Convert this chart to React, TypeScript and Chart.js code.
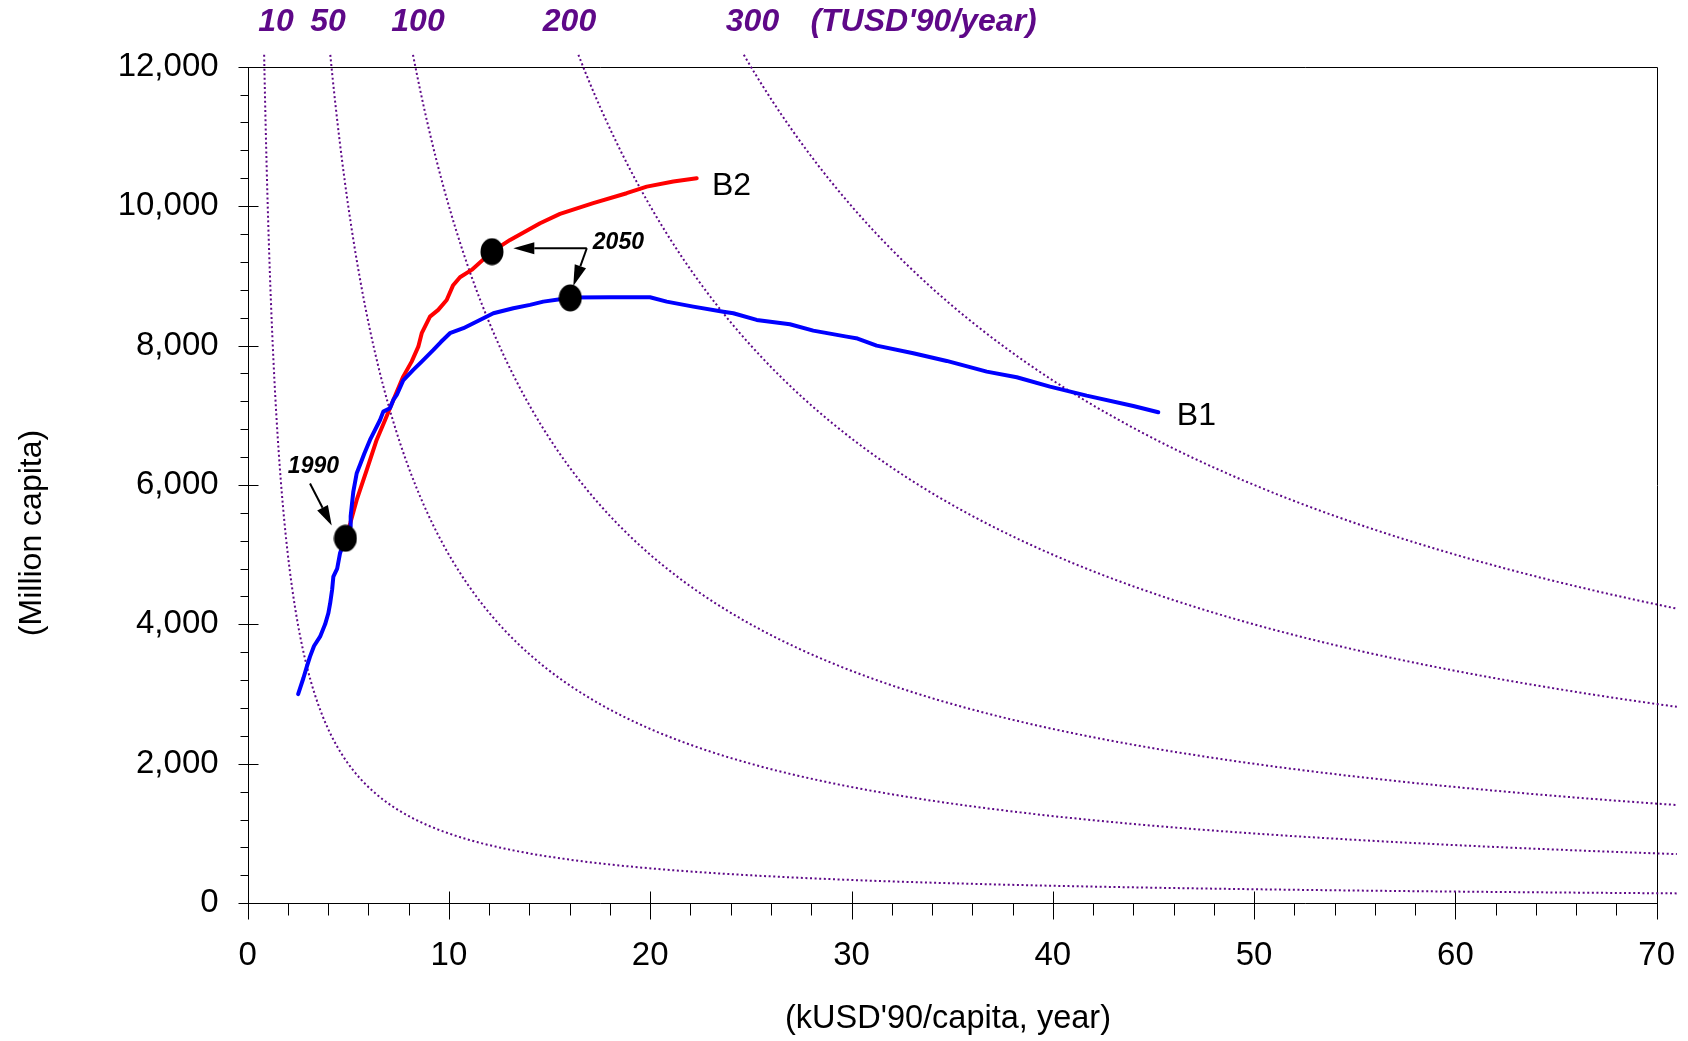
import React, { useEffect, useRef } from 'react';
import { Chart, registerables } from 'chart.js';

Chart.register(...registerables);

const W = 1688;
const H = 1041;

// Iso-GDP contours, total output in TUSD'90/year (population x income)
const gdpLevels = [10, 50, 100, 200, 300];
const gdpLabels = ['10', '50', '100', '200', '300', "(TUSD'90/year)"];

// B1 scenario: income (kUSD'90/capita) and population (million)
const b1Income = [
  2.51, 2.77, 2.95, 3.1, 3.3, 3.6, 3.85, 4.01, 4.1, 4.2, 4.26, 4.45, 4.59, 4.86,
  5.09, 5.12, 5.17, 5.25, 5.42, 5.6, 5.8, 6.08, 6.35, 6.58, 6.74, 7.07, 7.24, 7.41,
  7.73, 8.23, 8.65, 9.23, 9.6, 10.05, 10.72, 11.54, 12.21, 13.2, 14.03, 14.69,
  15.52, 16.03, 18.0, 19.99, 20.82, 22.14, 23.63, 24.13, 25.29, 26.94, 28.1,
  29.76, 30.3, 31.25, 33.07, 34.73, 36.72, 38.21, 39.86, 41.68, 44.0, 45.24,
];
const b1Population = [
  3000, 3227, 3400, 3537, 3690, 3823, 4000, 4159, 4300, 4500, 4684, 4800, 5020, 5235,
  5402, 5550, 5689, 5900, 6168, 6300, 6450, 6646, 6800, 6932, 7052, 7100, 7219, 7291,
  7500, 7650, 7769, 7937, 8050, 8177, 8248, 8367, 8463, 8535, 8583, 8630,
  8664, 8690, 8693, 8693, 8630, 8558, 8486, 8463, 8367, 8306, 8214,
  8128, 8100, 7999, 7890, 7779, 7626, 7545, 7410, 7281, 7133, 7043,
];

// B2 scenario
const b2Income = [
  4.86, 5.1, 5.42, 5.92, 6.41, 6.83, 7.24, 7.73, 8.15, 8.48, 8.65, 9.06, 9.47,
  9.89, 10.2, 10.55, 11.13, 12.14, 13.04, 14.53, 15.52, 17.17, 18.83, 19.83,
  21.15, 22.31,
];
const b2Population = [
  5235, 5450, 5785, 6215, 6646, 6932, 7219, 7554, 7769, 7984, 8177, 8415, 8511,
  8654, 8860, 8980, 9085, 9347, 9515, 9755, 9888, 10042, 10185, 10280,
  10352, 10400,
];

// Milestones: 1990 (shared), 2050 B2, 2050 B1
const milestoneIncome = [4.86, 12.14, 16.03];
const milestonePopulation = [5235, 9347, 8683];

const FONT = "'Liberation Sans', Arial, Helvetica, sans-serif";
const PURPLE = '#5e0888';

// target plot rectangle on the page
const PLOT_LEFT = 247.6;
const PLOT_RIGHT = 1656.7;
const PLOT_TOP = 66.7;
const PLOT_BOTTOM = 903.2;

function toPoints(xs: number[], ys: number[]) {
  return xs.map((x, i) => ({ x, y: ys[i] }));
}

// hyperbola population = level / income, from just above the top of the
// plot to a little past its right edge
function contourPoints(level: number) {
  const topPop = 12170;
  const gridEnd = 69.5;
  const overshoot = 71;
  const x0 = (level * 1000) / topPop;
  const pts: { x: number; y: number }[] = [];
  const n = 400;
  for (let i = 0; i <= n; i++) {
    const x = x0 * Math.pow(gridEnd / x0, i / n);
    pts.push({ x, y: (level * 1000) / x });
  }
  pts.push({ x: overshoot, y: (level * 1000) / overshoot });
  return pts;
}

function drawArrow(ctx: CanvasRenderingContext2D, x1: number, y1: number, x2: number, y2: number, head: number, half: number) {
  const ang = Math.atan2(y2 - y1, x2 - x1);
  const bx = x2 - Math.cos(ang) * head;
  const by = y2 - Math.sin(ang) * head;
  ctx.beginPath();
  ctx.moveTo(x1, y1);
  ctx.lineTo(bx, by);
  ctx.stroke();
  ctx.beginPath();
  ctx.moveTo(x2, y2);
  ctx.lineTo(bx + Math.sin(ang) * half, by - Math.cos(ang) * half);
  ctx.lineTo(bx - Math.sin(ang) * half, by + Math.cos(ang) * half);
  ctx.closePath();
  ctx.fill();
}

const framePlugin = {
  id: 'frame',
  beforeDatasetsDraw(chart: any) {
    const { ctx, chartArea: a, scales } = chart;
    const x = scales.x;
    const y = scales.y;
    const L = Math.round(a.left) + 0.5;
    const R = Math.round(a.right) + 0.5;
    const T = Math.round(a.top) + 0.5;
    const B = Math.round(a.bottom) + 0.5;
    ctx.save();
    ctx.strokeStyle = '#000';
    ctx.lineWidth = 1;
    ctx.beginPath();
    ctx.rect(L, T, R - L, B - T);
    ctx.stroke();
    // y ticks: minor every 400, major every 2000
    for (let v = 0; v <= 12000; v += 400) {
      const py = Math.round(y.getPixelForValue(v)) + 0.5;
      const major = v % 2000 === 0;
      ctx.beginPath();
      ctx.moveTo(L - (major ? 10 : 8), py);
      ctx.lineTo(L + (major ? 10 : 0), py);
      ctx.stroke();
    }
    // x ticks: minor every 2, major every 10
    for (let v = 0; v <= 70; v += 2) {
      const px = Math.round(x.getPixelForValue(v)) + 0.5;
      const major = v % 10 === 0;
      ctx.beginPath();
      ctx.moveTo(px, B - (major ? 12 : 0));
      ctx.lineTo(px, B + (major ? 16 : 12));
      ctx.stroke();
    }
    ctx.restore();
  },
};

const textPlugin = {
  id: 'texts',
  afterDraw(chart: any) {
    const { ctx, scales } = chart;
    const x = scales.x;
    const y = scales.y;
    const px = (v: number) => x.getPixelForValue(v);
    const py = (v: number) => y.getPixelForValue(v);
    ctx.save();

    // contour level labels along the top
    const labelX = [276, 328, 418, 569.5, 752.5, 923.6];
    ctx.fillStyle = PURPLE;
    ctx.font = `italic bold 32px ${FONT}`;
    ctx.textAlign = 'center';
    ctx.textBaseline = 'middle';
    gdpLabels.forEach((t, i) => ctx.fillText(t, labelX[i], 22));

    // axis titles
    ctx.fillStyle = '#000';
    ctx.font = `32.5px ${FONT}`;
    ctx.fillText("(kUSD'90/capita, year)", 948, 1019);
    ctx.save();
    ctx.translate(32, 533);
    ctx.rotate(-Math.PI / 2);
    ctx.font = `32px ${FONT}`;
    ctx.fillText('(Million capita)', 0, 0);
    ctx.restore();

    // scenario labels
    ctx.font = `32px ${FONT}`;
    ctx.textAlign = 'left';
    ctx.fillText('B2', px(23.07), py(10280));
    ctx.fillText('B1', px(46.16), py(6980));

    // year annotations
    ctx.font = `italic bold 23px ${FONT}`;
    ctx.textAlign = 'center';
    ctx.fillText('1990', px(3.27), py(6258));
    ctx.fillText('2050', px(18.42), py(9482));

    ctx.strokeStyle = '#000';
    ctx.fillStyle = '#000';
    ctx.lineWidth = 2;
    drawArrow(ctx, px(3.1), py(6021), px(4.18), py(5419), 20, 6);
    drawArrow(ctx, px(16.85), py(9396), px(13.2), py(9396), 21, 6);
    drawArrow(ctx, px(16.85), py(9396), px(16.18), py(8855), 21, 6);

    ctx.restore();
  },
};

export default function App() {
  const ref = useRef<HTMLCanvasElement | null>(null);

  useEffect(() => {
    const canvas = ref.current;
    if (!canvas) return;

    // ellipse marker for the milestone years
    const dot = document.createElement('canvas');
    dot.width = 24;
    dot.height = 28;
    const dctx = dot.getContext('2d')!;
    dctx.fillStyle = '#000';
    dctx.beginPath();
    dctx.ellipse(12, 14, 11.5, 13.5, 0, 0, Math.PI * 2);
    dctx.fill();

    const tickFont = { family: FONT, size: 33 };

    const contours = gdpLevels.map((level) => ({
      label: `${level} TUSD`,
      data: contourPoints(level),
      showLine: true,
      borderColor: PURPLE,
      borderWidth: 2,
      borderDash: [2, 2.6],
      pointRadius: 0,
      tension: 0,
      clip: { left: 0, top: 14, right: 40, bottom: 0 },
      order: 3,
    }));

    const chart = new Chart(canvas, {
      type: 'scatter',
      data: {
        datasets: [
          {
            label: '1990 / 2050',
            data: toPoints(milestoneIncome, milestonePopulation),
            pointStyle: dot as any,
            pointRadius: 12,
            showLine: false,
            order: 0,
          },
          {
            label: 'B1',
            data: toPoints(b1Income, b1Population),
            showLine: true,
            borderColor: '#0000ff',
            borderWidth: 4,
            borderJoinStyle: 'round',
            borderCapStyle: 'round',
            pointRadius: 0,
            tension: 0,
            order: 1,
          },
          {
            label: 'B2',
            data: toPoints(b2Income, b2Population),
            showLine: true,
            borderColor: '#ff0000',
            borderWidth: 4,
            borderJoinStyle: 'round',
            borderCapStyle: 'round',
            pointRadius: 0,
            tension: 0,
            order: 2,
          },
          ...contours,
        ] as any,
      },
      options: {
        animation: false,
        responsive: false,
        events: [],
        layout: { padding: { left: 0, top: PLOT_TOP, right: W - PLOT_RIGHT, bottom: 0 } },
        plugins: {
          legend: { display: false },
          tooltip: { enabled: false },
        },
        scales: {
          x: {
            type: 'linear',
            min: 0,
            max: 70,
            afterFit: (s: any) => {
              s.height = H - PLOT_BOTTOM;
              s.paddingRight = 0;
              s.paddingLeft = 0;
            },
            ticks: {
              stepSize: 10,
              padding: 33,
              color: '#000',
              font: tickFont,
              maxRotation: 0,
              autoSkip: false,
            },
            grid: { display: false, drawTicks: false },
            border: { display: false },
          },
          y: {
            type: 'linear',
            min: 0,
            max: 12000,
            afterFit: (s: any) => {
              s.width = PLOT_LEFT;
              s.paddingTop = 0;
              s.paddingBottom = 0;
            },
            ticks: {
              stepSize: 2000,
              padding: 29,
              color: '#000',
              font: tickFont,
              callback: (v: any) => Number(v).toLocaleString('en-US'),
            },
            grid: { display: false, drawTicks: false },
            border: { display: false },
          },
        },
      } as any,
      plugins: [framePlugin, textPlugin],
    });

    return () => chart.destroy();
  }, []);

  return (
    <div style={{ position: 'fixed', left: 0, top: 0, width: W, height: H, background: '#fff' }}>
      <canvas ref={ref} width={W} height={H} style={{ display: 'block' }} />
    </div>
  );
}
